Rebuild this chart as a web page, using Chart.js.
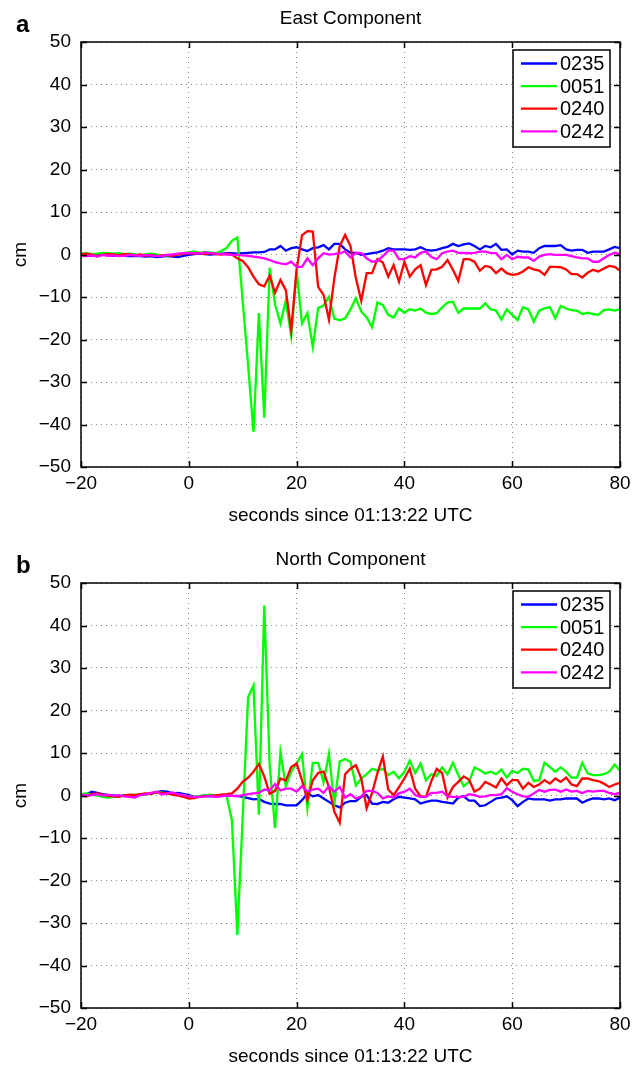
<!DOCTYPE html>
<html><head><meta charset="utf-8">
<style>
html,body{margin:0;padding:0;background:#fff;overflow:hidden;width:641px;height:1067px;}
.panel{position:absolute;left:0;width:641px;height:535px;}
#pa{top:0px} #pb{top:541px}
</style>
<script src="https://cdn.jsdelivr.net/npm/chart.js@4.4.1/dist/chart.umd.min.js"></script>
</head><body>
<div class="panel" id="pa"><canvas id="ca" width="641" height="535"></canvas></div>
<div class="panel" id="pb"><canvas id="cb" width="641" height="535"></canvas></div>
<script>
// ---- data (1 sample per second, starting at -20 s) ----
const startSecond = -20;
const stationLabels = ['0235', '0051', '0240', '0242'];
const stationColors = ['#0000ff', '#00ff00', '#ff0000', '#ff00ff'];
const xTickValues = [-20, 0, 20, 40, 60, 80];
const yTickValues = [-50, -40, -30, -20, -10, 0, 10, 20, 30, 40, 50];
const panelTitles = ['East Component', 'North Component'];
const panelLetters = ['a', 'b'];
const xAxisTitle = 'seconds since 01:13:22 UTC';
const yAxisTitle = 'cm';

const eastBlue = [-0.3,-0.2,-0.3,-0.1,0.0,-0.2,-0.3,-0.2,-0.3,-0.4,
 -0.3,-0.4,-0.5,-0.4,-0.6,-0.5,-0.3,-0.5,-0.6,-0.3,
 -0.1,0.1,0.2,0.1,0.0,0.1,0.2,0.3,0.3,0.2,
 0.3,0.4,0.5,0.5,0.6,1.2,1.2,2.0,0.9,1.5,
 1.7,1.2,0.8,1.5,1.7,2.2,1.2,2.5,2.5,1.2,
 0.4,0.4,-0.1,0.1,0.3,0.5,0.9,1.5,1.2,1.2,
 1.2,1.1,1.2,1.7,1.1,0.9,1.1,1.5,1.8,2.5,
 2.0,2.4,2.6,2.0,1.2,2.0,1.7,2.5,1.1,1.2,
 0.0,0.9,0.7,0.7,0.4,1.5,2.0,2.0,2.0,2.2,
 1.2,0.9,1.1,1.1,0.4,0.7,0.7,0.7,1.2,1.8,
 1.5];
const eastGreen = [0.2,0.3,0.1,0.2,0.4,0.3,0.2,0.3,0.1,0.2,
 0.0,-0.2,0.1,0.2,0.0,-0.3,-0.2,-0.1,0.0,0.3,
 0.5,0.7,0.4,0.6,0.5,0.3,0.8,1.5,3.2,4.0,
 -11.0,-26.0,-41.7,-13.8,-38.4,-3.1,-11.7,-16.2,-10.9,-19.2,
 -3.8,-16.2,-13.8,-21.7,-12.6,-12.0,-10.0,-15.1,-15.5,-15.0,
 -12.9,-10.3,-13.4,-14.8,-17.1,-11.3,-11.9,-14.2,-14.8,-12.7,
 -13.7,-12.9,-13.2,-12.7,-13.7,-14.0,-13.8,-12.4,-11.3,-11.1,
 -13.7,-12.7,-12.7,-12.7,-12.7,-11.5,-12.9,-13.2,-15.3,-12.9,
 -14.2,-15.4,-12.4,-12.9,-15.8,-13.2,-12.7,-12.4,-15.0,-12.1,
 -12.7,-13.1,-13.2,-14.0,-13.7,-14.0,-14.2,-13.1,-12.9,-13.2,
 -12.9];
const eastRed = [0.1,0.2,0.0,-0.4,-0.1,0.1,0.0,-0.2,0.1,0.0,
 -0.2,0.0,-0.3,-0.1,-0.4,-0.2,-0.1,-0.3,0.0,0.2,
 0.3,0.2,0.4,0.1,0.3,0.1,0.0,0.2,0.0,-0.9,
 -1.5,-3.0,-5.2,-7.0,-7.5,-5.0,-9.0,-6.0,-8.4,-17.8,
 -3.5,4.5,5.5,5.4,-7.6,-9.5,-15.3,-5.6,2.0,4.6,
 2.0,-5.6,-10.9,-4.4,-4.4,-1.1,-1.9,-5.2,-2.5,-6.4,
 -1.7,-5.2,-3.5,-2.5,-7.2,-3.6,-3.5,-2.9,-1.3,-3.6,
 -6.2,-1.1,-1.1,-1.7,-3.8,-2.7,-3.0,-4.4,-3.3,-4.4,
 -4.8,-4.6,-4.0,-3.0,-3.5,-3.8,-4.8,-2.9,-2.9,-3.0,
 -3.5,-4.6,-4.6,-5.4,-4.3,-3.6,-4.0,-3.3,-2.7,-2.9,
 -3.8];
const eastMagenta = [-0.3,-0.4,-0.2,-0.5,-0.1,-0.3,-0.2,-0.4,-0.3,-0.1,
 -0.2,-0.3,-0.1,-0.2,-0.4,-0.3,-0.1,0.0,0.2,0.3,
 0.4,0.3,0.2,0.5,0.3,0.2,0.1,0.0,-0.1,-0.1,
 -0.2,-0.3,-0.5,-0.7,-0.9,-1.3,-1.8,-2.1,-2.3,-1.7,
 -2.9,-2.9,-0.9,-2.5,-0.9,0.3,0.0,0.1,0.3,0.7,
 -0.7,0.4,0.3,-0.9,-1.7,-1.5,-0.4,0.9,0.9,-1.1,
 -1.1,-0.4,-0.7,0.4,0.7,-0.6,-1.1,0.3,0.7,0.9,
 0.4,0.4,0.3,0.4,0.7,0.7,0.4,0.3,-1.1,-0.1,
 -1.1,-0.5,-0.7,-0.7,-1.5,-0.5,-0.1,0.1,-0.1,-0.1,
 -0.1,-0.4,-0.7,-0.9,-0.9,-1.7,-1.7,-0.9,-0.1,0.4,
 0.1];

const northBlue = [0.2,0.3,0.9,0.6,0.3,0.1,0.0,-0.2,0.0,-0.1,
 0.0,0.2,0.3,0.4,0.8,1.0,0.9,0.5,0.6,0.4,
 0.1,-0.3,-0.2,0.0,-0.2,-0.1,-0.1,0.0,-0.1,-0.1,
 -0.3,-0.6,-0.9,-0.8,-1.5,-1.9,-2.0,-2.0,-2.3,-2.3,
 -2.3,-1.1,0.5,-0.2,0.1,-0.7,-1.5,-2.3,-2.8,-1.7,
 -1.3,-1.3,-0.3,0.1,-1.9,-2.0,-1.5,-1.7,-0.9,-0.3,
 -0.5,-0.7,-0.9,-1.9,-1.5,-1.2,-1.2,-1.5,-1.7,-1.9,
 -0.5,-0.2,-1.2,-1.2,-2.5,-2.3,-1.5,-0.7,-0.5,-0.2,
 -1.1,-2.5,-1.5,-0.7,-0.9,-0.9,-0.9,-1.2,-0.9,-0.9,
 -0.7,-0.7,-0.7,-1.7,-1.1,-0.7,-0.7,-0.9,-0.7,-1.1,
 -0.5];
const northGreen = [0.3,0.5,0.2,0.0,-0.3,-0.5,-0.3,-0.2,0.0,0.1,
 0.2,0.1,0.3,0.5,0.6,0.7,0.4,0.5,0.2,0.1,
 -0.2,-0.4,-0.1,0.0,0.2,-0.1,0.1,0.0,-5.8,-32.8,
 -5.0,23.1,25.9,-4.5,44.7,7.2,-7.7,10.2,2.2,5.6,
 7.5,9.7,-3.0,7.7,7.7,3.1,9.8,-2.0,8.0,8.6,
 7.9,2.4,4.0,5.0,6.3,5.9,6.3,4.8,5.6,4.0,
 5.6,8.2,5.3,7.5,3.6,5.0,4.6,6.6,5.0,7.7,
 4.8,2.2,3.2,6.6,6.0,5.2,5.6,5.0,6.1,4.2,
 5.8,5.3,6.3,6.1,3.4,3.6,7.7,6.7,5.6,6.6,
 5.6,4.2,4.2,7.7,5.2,4.8,4.8,5.0,5.6,7.3,
 5.8];
const northRed = [0.0,-0.2,0.3,0.5,0.2,-0.1,-0.2,-0.3,0.0,0.2,
 0.1,0.3,0.5,0.4,0.8,0.6,0.5,0.2,0.0,-0.3,
 -0.7,-0.6,-0.3,-0.2,-0.1,0.0,0.2,0.3,0.5,1.6,
 3.2,4.2,5.6,7.4,4.5,0.4,1.1,4.0,3.5,6.7,
 7.5,3.6,-1.1,3.6,5.3,5.6,2.0,-3.8,-6.4,5.0,
 6.3,7.1,4.0,-3.0,0.6,5.3,9.2,1.4,0.1,2.0,
 4.0,6.3,1.6,-0.2,-0.3,3.4,6.3,5.3,-0.5,2.0,
 3.2,4.5,3.7,0.9,1.6,3.2,2.6,1.9,4.0,2.4,
 3.6,3.6,1.6,3.0,2.0,2.6,3.6,2.8,4.0,3.2,
 4.2,2.6,2.2,4.0,4.0,3.6,3.4,2.8,2.0,2.6,
 3.0];
const northMagenta = [0.2,0.0,0.1,0.3,0.0,0.2,-0.1,0.1,-0.2,-0.3,
 -0.5,0.1,0.3,0.6,0.9,0.2,0.5,0.7,0.3,0.1,
 -0.2,-0.4,-0.3,-0.2,-0.1,-0.3,-0.2,0.0,-0.1,-0.2,
 0.1,0.3,0.5,0.6,1.4,1.2,2.7,1.2,1.6,1.6,
 0.9,2.2,0.9,1.4,1.6,0.6,2.2,0.9,2.0,-0.5,
 0.3,-0.7,-0.2,1.1,1.1,0.6,-0.7,-0.2,-0.5,0.5,
 0.9,1.6,0.1,-0.3,-0.3,0.6,0.6,0.9,-0.2,-0.3,
 -0.3,-0.3,0.3,0.1,-0.3,-0.2,0.1,0.1,0.3,1.7,
 0.9,0.3,-0.2,-0.3,0.5,1.3,0.9,1.3,1.4,0.9,
 1.4,0.9,1.1,0.6,1.1,0.9,1.1,1.1,0.6,0.3,
 0.6];

// ---- rendering ----
const FONT = '"Liberation Sans", Arial, Helvetica, sans-serif';
const fmt = v => (v < 0 ? '\u2212' + Math.abs(v) : String(v));

const framePlugin = {
  id: 'matlabFrame',
  afterDatasetsDraw(chart, args, opts) {
    const ctx = chart.ctx, a = chart.chartArea;
    const xs = chart.scales.x, ys = chart.scales.y;
    ctx.save();
    ctx.strokeStyle = '#000';
    ctx.lineWidth = 1.5;
    ctx.beginPath();
    const tl = 6;
    xTickValues.forEach(v => {
      const px = Math.round(xs.getPixelForValue(v)) + 0.5;
      ctx.moveTo(px, a.bottom); ctx.lineTo(px, a.bottom - tl);
      ctx.moveTo(px, a.top); ctx.lineTo(px, a.top + tl);
    });
    yTickValues.forEach(v => {
      const py = Math.round(ys.getPixelForValue(v)) + 0.5;
      ctx.moveTo(a.left, py); ctx.lineTo(a.left + tl, py);
      ctx.moveTo(a.right, py); ctx.lineTo(a.right - tl, py);
    });
    ctx.stroke();
    ctx.strokeRect(a.left, a.top, a.right - a.left, a.bottom - a.top);

    // legend box
    const bx = a.right - 107, by = a.top + 8, bw = 97, bh = 97;
    ctx.fillStyle = '#fff';
    ctx.fillRect(bx, by, bw, bh);
    ctx.lineWidth = 1.5;
    ctx.strokeRect(bx, by, bw, bh);
    ctx.font = '20px ' + FONT;
    ctx.textBaseline = 'middle';
    ctx.textAlign = 'left';
    chart.data.datasets.forEach((ds, i) => {
      const ry = by + 13.5 + i * 22.6;
      ctx.strokeStyle = ds.borderColor;
      ctx.lineWidth = 2.3;
      ctx.beginPath();
      ctx.moveTo(bx + 8, ry); ctx.lineTo(bx + 44, ry);
      ctx.stroke();
      ctx.fillStyle = '#000';
      ctx.fillText(ds.label, bx + 47, ry + 1);
    });

    // title and panel letter
    ctx.fillStyle = '#000';
    ctx.textAlign = 'center';
    ctx.font = '19px ' + FONT;
    ctx.fillText(opts.title, (a.left + a.right) / 2, 19);
    ctx.textAlign = 'left';
    ctx.font = 'bold 24px ' + FONT;
    ctx.fillText(opts.letter, 16, 25);
    ctx.restore();
  }
};

function makePanel(canvasId, idx, series) {
  const datasets = series.map((vals, i) => ({
    label: stationLabels[i],
    data: vals.map((v, k) => ({ x: startSecond + k, y: v })),
    borderColor: stationColors[i],
    backgroundColor: stationColors[i],
    borderWidth: 2.3,
    pointRadius: 0,
    fill: false,
    tension: 0,
    order: series.length - i
  }));
  return new Chart(document.getElementById(canvasId), {
    type: 'line',
    data: { datasets },
    plugins: [framePlugin],
    options: {
      responsive: false,
      animation: false,
      devicePixelRatio: 1,
      layout: { padding: { left: 0, right: 21, top: 42, bottom: 0 } },
      plugins: {
        legend: { display: false },
        tooltip: { enabled: false },
        matlabFrame: { title: panelTitles[idx], letter: panelLetters[idx] }
      },
      scales: {
        x: {
          type: 'linear', min: -20, max: 80,
          afterBuildTicks: s => { s.ticks = xTickValues.map(v => ({ value: v })); },
          afterFit: s => { s.height = 68; s.paddingLeft = 0; s.paddingRight = 0; },
          grid: { color: '#8a8a8a', lineWidth: 1, drawTicks: false },
          border: { display: false, dash: [1, 4] },
          ticks: { color: '#000', font: { family: FONT, size: 19 }, padding: 5, maxRotation: 0, autoSkip: false, callback: v => fmt(v) },
          title: { display: true, text: xAxisTitle, color: '#000', font: { family: FONT, size: 19 }, padding: { top: 0, bottom: 8 } }
        },
        y: {
          type: 'linear', min: -50, max: 50,
          afterBuildTicks: s => { s.ticks = yTickValues.map(v => ({ value: v })); },
          afterFit: s => { s.width = 81; },
          grid: { color: '#8a8a8a', lineWidth: 1, drawTicks: false },
          border: { display: false, dash: [1, 4] },
          ticks: { color: '#000', font: { family: FONT, size: 19 }, padding: 10, autoSkip: false, callback: v => fmt(v) },
          title: { display: true, text: yAxisTitle, color: '#000', font: { family: FONT, size: 19 }, padding: { top: 9, bottom: 0 } }
        }
      }
    }
  });
}

makePanel('ca', 0, [eastBlue, eastGreen, eastRed, eastMagenta]);
makePanel('cb', 1, [northBlue, northGreen, northRed, northMagenta]);
</script>
</body></html>
